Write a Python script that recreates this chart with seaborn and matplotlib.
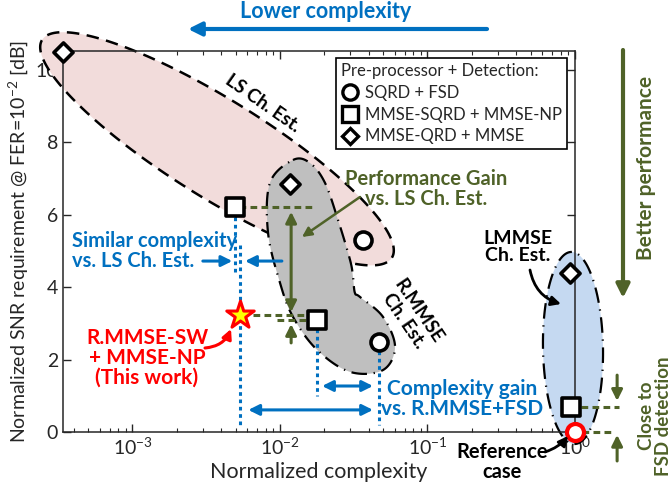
import numpy as np
import pandas as pd
import matplotlib
matplotlib.use('Agg')
import matplotlib.pyplot as plt
import seaborn as sns
from matplotlib.lines import Line2D

# ---- data ----
detectors = ['SQRD + FSD', 'MMSE-SQRD + MMSE-NP', 'MMSE-QRD + MMSE']
ls_complexity = [0.0365, 0.00495, 0.00034]
ls_snr = [5.3, 6.2, 10.5]
rmmse_complexity = [0.047, 0.0178, 0.0117]
rmmse_snr = [2.49, 3.1, 6.85]
lmmse_complexity = [1.0, 0.94, 0.925]
lmmse_snr = [0.0, 0.68, 4.4]
this_work_complexity = [0.00536]
this_work_snr = [3.23]

df = pd.DataFrame({
    'complexity': ls_complexity + rmmse_complexity + lmmse_complexity,
    'snr': ls_snr + rmmse_snr + lmmse_snr,
    'detector': detectors * 3,
    'estimator': ['LS'] * 3 + ['R.MMSE'] * 3 + ['LMMSE'] * 3,
})
ref = df[(df.estimator == 'LMMSE') & (df.detector == 'SQRD + FSD')]
others = df.drop(ref.index)

BLUE = '#0070C0'
GREEN = '#4F6228'
RED = '#FF0000'

sns.set_style('ticks')
plt.rcParams['font.family'] = ['Lato', 'DejaVu Sans']
plt.rcParams['mathtext.default'] = 'regular'
plt.rcParams['xtick.direction'] = 'in'
plt.rcParams['ytick.direction'] = 'in'

fig = plt.figure(figsize=(6.72, 4.9), dpi=100)
ax = fig.add_axes([63 / 672, 58 / 490, 512 / 672, 381 / 490])
ax.set_xscale('log')
ax.set_xlim(10 ** -3.471, 1)
ax.set_ylim(0, 10.52)

DEC, UNIT = 147.5, 36.2   # pixels per decade / per dB


def F(x, y):
    # reference pixel -> figure fraction
    return (x / 672, 1 - y / 490)


def ellipse(lx0, y0, a, b, ang, n=300):
    t = np.linspace(0, 2 * np.pi, n)
    c, s = np.cos(np.radians(ang)), np.sin(np.radians(ang))
    u = a * np.cos(t) * c - b * np.sin(t) * s
    v = a * np.cos(t) * s + b * np.sin(t) * c
    return 10 ** (lx0 + u / DEC), y0 + v / UNIT


def closed_spline(px, py, n=25):
    P = np.column_stack([px, py])
    m = len(P)
    t = np.linspace(0, 1, n, endpoint=False)[:, None]
    out = []
    for i in range(m):
        p0, p1, p2, p3 = P[i - 1], P[i], P[(i + 1) % m], P[(i + 2) % m]
        out.append(0.5 * (2 * p1 + (-p0 + p2) * t + (2 * p0 - 5 * p1 + 4 * p2 - p3) * t ** 2
                          + (-p0 + 3 * p1 - 3 * p2 + p3) * t ** 3))
    out = np.vstack(out)
    return 10 ** out[:, 0], out[:, 1]


# LS region
ex, ey = ellipse(-2.427, 7.82, 206, 49, -31.9)
ax.fill(ex, ey, facecolor='#F2DCDB', edgecolor='black', lw=1.8,
        ls=(0, (5, 3)), clip_on=False, zorder=1)

# R.MMSE region
blob_lx = [-1.912, -1.797, -1.695, -1.607, -1.525, -1.505, -1.492, -1.458, -1.302, -1.220,
           -1.302, -1.525, -1.749, -1.912, -2.0, -2.081, -2.068]
blob_y = [7.51, 7.43, 6.88, 5.86, 4.75, 4.28, 3.84, 3.73, 3.18, 2.35,
          1.71, 1.66, 2.27, 3.18, 4.12, 5.50, 6.88]
bx, by = closed_spline(blob_lx, blob_y)
ax.fill(bx, by, facecolor='#BFBFBF', edgecolor='black', lw=1.6,
        ls=(0, (7, 3, 0.6, 3)), clip_on=False, zorder=1.2)

# LMMSE region
ex, ey = ellipse(-0.0136, 2.32, 96, 30, 91)
ax.fill(ex, ey, facecolor='#C5D9F1', edgecolor='black', lw=1.6,
        ls=(0, (7, 3, 0.6, 3)), clip_on=False, zorder=1)

# markers
marker_map = {'SQRD + FSD': 'o', 'MMSE-SQRD + MMSE-NP': 's', 'MMSE-QRD + MMSE': 'D'}
size_map = {'SQRD + FSD': 150, 'MMSE-SQRD + MMSE-NP': 150, 'MMSE-QRD + MMSE': 95}
for det in detectors:
    sub = others[others.detector == det]
    sns.scatterplot(data=sub, x='complexity', y='snr', marker=marker_map[det],
                    s=size_map[det], color='white', edgecolor='black', linewidth=2.6,
                    zorder=6, clip_on=False, legend=False, ax=ax)
sns.scatterplot(data=ref, x='complexity', y='snr', marker='o', s=150, color='white',
                edgecolor=RED, linewidth=3, zorder=7, clip_on=False, legend=False, ax=ax)
ax.scatter(this_work_complexity, this_work_snr, marker='*', s=430, color='#FFFF00',
           edgecolor=RED, linewidth=2.2, zorder=7, clip_on=False)

# guide lines
dot = dict(color=BLUE, lw=2.2, ls=(0, (1.2, 1.2)), zorder=3, clip_on=False)
dash = dict(color=GREEN, lw=2.2, ls=(0, (2.2, 1.4)), zorder=3, clip_on=False)
ax.plot([ls_complexity[1]] * 2, [ls_snr[1] - 0.25, 4.4], **dot)
ax.plot([this_work_complexity[0]] * 2, [5.15, 0.2], **dot)
ax.plot([rmmse_complexity[1]] * 2, [rmmse_snr[1] - 0.25, 1.0], **dot)
ax.plot([rmmse_complexity[0]] * 2, [rmmse_snr[0] - 0.25, 0.2], **dot)
ax.plot([0.0053, 0.0173], [ls_snr[1]] * 2, **dash)
ax.plot([0.0066, 0.0145], [this_work_snr[0]] * 2, **dash)
ax.plot([0.0096, 0.0155], [rmmse_snr[1]] * 2, **dash)
ax.plot([1.09, 2.0], [lmmse_snr[1]] * 2, **dash)
ax.plot([1.12, 1.85], [lmmse_snr[0]] * 2, **dash)


def arrow(xy_from, xy_to, color, style='-|>', coords='data', rad=0.0, lw=2.2, ms=16):
    ax.annotate('', xy=xy_to, xytext=xy_from, xycoords=coords, textcoords=coords,
                annotation_clip=False,
                arrowprops=dict(arrowstyle=style, color=color, lw=lw, mutation_scale=ms,
                                shrinkA=0, shrinkB=0, connectionstyle=f'arc3,rad={rad}'),
                zorder=8)


# green performance arrows
arrow((0.0119, 6.08), (0.0119, 3.31), GREEN, style='<|-|>')
arrow((0.0119, 2.46), (0.0119, 2.98), GREEN)
arrow(F(360, 197), F(302, 237), GREEN, coords='figure fraction', lw=1.8, ms=14)
arrow((1.93, 1.57), (1.93, 0.86), GREEN)
arrow((1.93, -0.8), (1.93, -0.08), GREEN)

# blue complexity arrows
arrow((0.0030, 4.72), (0.00475, 4.72), BLUE)
arrow((0.0103, 4.72), (0.0058, 4.72), BLUE)
arrow((0.0193, 1.27), (0.0427, 1.27), BLUE, style='<|-|>')
arrow((0.0061, 0.61), (0.0427, 0.61), BLUE, style='<|-|>')

# top / right big arrows
arrow(F(487, 29), F(188, 29), BLUE, coords='figure fraction', lw=3, ms=20)
arrow(F(623, 50), F(623, 298), GREEN, coords='figure fraction', lw=3, ms=20)

# curved pointers
arrow(F(205, 348), F(231, 329), RED, coords='figure fraction', rad=0.3, lw=2.2, ms=14)
arrow(F(530, 270), F(561, 304), 'black', coords='figure fraction', rad=0.3, lw=2, ms=14)
arrow(F(545, 452), F(568, 436), 'black', coords='figure fraction', rad=0.15, lw=2, ms=14)

# texts
tb = dict(fontweight='bold', ha='center', va='center', linespacing=1.0)
fig.text(*F(326, 12), 'Lower complexity', color=BLUE, fontsize=15.5, **tb)
fig.text(*F(646, 168), 'Better performance', color=GREEN, fontsize=15, rotation=90, **tb)
fig.text(*F(655, 416), 'Close to\nFSD detection', color=GREEN, fontsize=13.5, rotation=90, **tb)
fig.text(*F(263, 103), 'LS Ch. Est.', color='black', fontsize=13.5, rotation=-35, **tb)
fig.text(*F(411, 316), 'R.MMSE\nCh. Est.', color='black', fontsize=13.5, rotation=-56, **tb)
fig.text(*F(426, 189), 'Performance Gain\nvs. LS Ch. Est.', color=GREEN, fontsize=14.5, **tb)
fig.text(*F(72, 251), 'Similar complexity\nvs. LS Ch. Est.', color=BLUE, fontsize=14.5,
         fontweight='bold', ha='left', va='center', linespacing=1.0)
fig.text(*F(147, 358), 'R.MMSE-SW\n+ MMSE-NP\n(This work)', color=RED, fontsize=15, **tb)
fig.text(*F(462, 399), 'Complexity gain\nvs. R.MMSE+FSD', color=BLUE, fontsize=15, **tb)
fig.text(*F(518, 247), 'LMMSE\nCh. Est.', color='black', fontsize=14, **tb)
fig.text(*F(502, 462), 'Reference\ncase', color='black', fontsize=14.5, **tb)

# axes styling
ax.set_yticks([0, 2, 4, 6, 8, 10])
ax.tick_params(which='both', top=True, right=True, direction='in', labelsize=14)
ax.tick_params(which='major', length=6, width=1)
ax.tick_params(which='minor', length=3, width=0.8)
for sp in ax.spines.values():
    sp.set_linewidth(1.1)
    sp.set_zorder(2.5)
ax.set_xlabel('Normalized complexity', fontsize=15.5, labelpad=3)
ax.set_ylabel('Normalized SNR requirement @ FER=10$^{-2}$ [dB]', fontsize=14, labelpad=4)

handles = [Line2D([], [], ls='none', marker=marker_map[d], ms=11 if d != 'MMSE-QRD + MMSE' else 8.5,
                  mfc='white', mec='black', mew=2.4, label=d) for d in detectors]
leg = ax.legend(handles=handles, title='Pre-processor + Detection:', loc='upper right',
                bbox_to_anchor=(0.984, 0.982), fontsize=12, title_fontsize=12,
                frameon=True, fancybox=False, framealpha=1, edgecolor='black',
                borderpad=0.3, handletextpad=0.4, labelspacing=0.35, handlelength=1.0,
                alignment='left', borderaxespad=0)
leg.get_frame().set_linewidth(1.2)
leg.set_zorder(9)

fig.savefig('out.png', dpi=100)
